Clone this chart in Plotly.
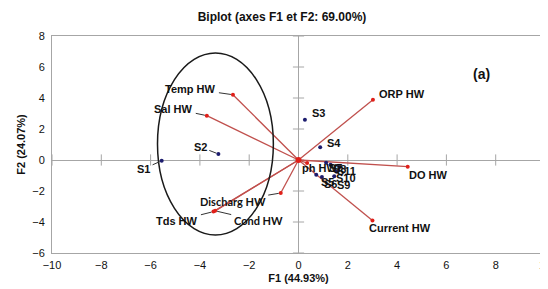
import plotly.graph_objects as go

# ---- data ----
obs_names = ["S1", "S2", "S3", "S4", "S5", "S6", "S7", "S8", "S9", "S10", "S11"]
obs_f1 = [-5.55, -3.25, 0.26, 0.88, 0.72, 0.95, 1.12, 1.30, 1.45, 1.55, 1.65]
obs_f2 = [-0.05, 0.39, 2.60, 0.82, -0.95, -1.10, -0.17, -0.30, -1.05, -0.75, -0.45]

var_names = ["Temp HW", "Sal HW", "Discharg HW", "Tds HW", "Cond HW",
             "ORP HW", "DO HW", "Current HW", "ph HW"]
var_f1 = [-2.66, -3.72, -0.72, -3.45, -3.38, 3.02, 4.43, 3.00, 0.35]
var_f2 = [4.21, 2.86, -2.13, -3.33, -3.28, 3.89, -0.43, -3.90, -0.20]

x_ticks = [-10, -8, -6, -4, -2, 0, 2, 4, 6, 8, 10]
y_ticks = [-6, -4, -2, 0, 2, 4, 6, 8]

ellipse_x = [-5.72, -1.02]
ellipse_y = [-4.84, 6.90]

# ---- label styling (pixel offsets of label centre from point, leader line?) ----
obs_label_style = {
    "S1": (-18, 8, True), "S2": (-18, -7, True), "S3": (14, -7, False),
    "S4": (14, -4, False), "S5": (11, 7, False), "S6": (9, 7, False),
    "S7": (9, 5, False), "S8": (9, 4, False), "S9": (9, 9, False),
    "S10": (9, 6, False), "S11": (7, 4, False),
}
var_label_style = {
    "Temp HW": (-42, -6, True), "Sal HW": (-33, -7, True),
    "Discharg HW": (-48, 8, True), "Tds HW": (-36, 9, True),
    "Cond HW": (43, 10, True), "ORP HW": (29, -6, False),
    "DO HW": (21, 8, False), "Current HW": (28, 8, False),
    "ph HW": (12, 5, False),
}

ARIAL = "Liberation Sans, Arial, sans-serif"
CALIBRI = "Lato, Carlito, sans-serif"
AXIS_GREY = "#a6a6a6"
VEC_RED = "#c0504d"

fig = go.Figure()

# tick marks on the zero lines
fig.add_trace(go.Scatter(x=x_ticks, y=[0] * len(x_ticks), mode="markers",
                         marker=dict(symbol="line-ns", size=8,
                                     line=dict(color=AXIS_GREY, width=1)),
                         hoverinfo="skip", showlegend=False))
fig.add_trace(go.Scatter(x=[0] * len(y_ticks), y=y_ticks, mode="markers",
                         marker=dict(symbol="line-ew", size=8,
                                     line=dict(color=AXIS_GREY, width=1)),
                         hoverinfo="skip", showlegend=False))

# variable vectors
vx, vy = [], []
for a, b in zip(var_f1, var_f2):
    vx += [0, a, None]
    vy += [0, b, None]
fig.add_trace(go.Scatter(x=vx, y=vy, mode="lines",
                         line=dict(color=VEC_RED, width=1.3),
                         hoverinfo="skip", showlegend=False))
fig.add_trace(go.Scatter(x=var_f1, y=var_f2, mode="markers",
                         marker=dict(color="#e0201a", size=4),
                         showlegend=False))
fig.add_trace(go.Scatter(x=[0], y=[0], mode="markers",
                         marker=dict(color="#e0201a", size=6),
                         showlegend=False))

# observations
fig.add_trace(go.Scatter(x=obs_f1, y=obs_f2, mode="markers",
                         marker=dict(color="#1c1c6e", size=4),
                         showlegend=False))

# ellipse
fig.add_shape(type="circle", xref="x", yref="y",
              x0=ellipse_x[0], x1=ellipse_x[1], y0=ellipse_y[0], y1=ellipse_y[1],
              line=dict(color="#1a1a1a", width=1.5), layer="above")

def add_label(name, x, y, style, family):
    dx, dy, leader = style
    fig.add_annotation(x=x, y=y, xref="x", yref="y", text="<b>%s</b>" % name,
                       showarrow=True, ax=dx, ay=dy, axref="pixel", ayref="pixel",
                       arrowhead=0, arrowwidth=1,
                       arrowcolor="#333333" if leader else "rgba(0,0,0,0)",
                       standoff=2, startstandoff=1,
                       font=dict(family=family, size=11, color="#111111"))

for n, a, b in zip(obs_names, obs_f1, obs_f2):
    add_label(n, a, b, obs_label_style[n], ARIAL)
for n, a, b in zip(var_names, var_f1, var_f2):
    fam = CALIBRI if n in ("Discharg HW", "Cond HW") else ARIAL
    add_label(n, a, b, var_label_style[n], fam)

fig.add_annotation(x=7.42, y=5.55, xref="x", yref="y", text="<b>(a)</b>",
                   showarrow=False, font=dict(family=ARIAL, size=14, color="#111111"))

fig.update_layout(
    width=548, height=289,
    margin=dict(l=44, r=11, t=28, b=44, autoexpand=False),
    paper_bgcolor="white", plot_bgcolor="white",
    title=dict(text="<b>Biplot (axes F1 et F2: 69.00%)</b>", x=0.5, xanchor="center",
               y=0.985, yanchor="top", font=dict(family=ARIAL, size=12, color="#111111"),
               automargin=False),
    font=dict(family=ARIAL, size=11, color="#111111"),
)
fig.update_xaxes(range=[-10, 10], tickvals=x_ticks, showgrid=False, automargin=False,
                 zeroline=True, zerolinecolor=AXIS_GREY, zerolinewidth=1,
                 showline=True, linecolor=AXIS_GREY, mirror=True, ticks="",
                 tickfont=dict(family=ARIAL, size=11), ticklabelstandoff=2,
                 title=dict(text="<b>F1 (44.93%)</b>", standoff=4,
                            font=dict(family=ARIAL, size=11)))
fig.update_yaxes(range=[-6, 8], tickvals=y_ticks, showgrid=False, automargin=False,
                 zeroline=True, zerolinecolor=AXIS_GREY, zerolinewidth=1,
                 showline=True, linecolor=AXIS_GREY, mirror=True, ticks="",
                 tickfont=dict(family=ARIAL, size=11), ticklabelstandoff=4,
                 title=dict(text="<b>F2 (24.07%)</b>", standoff=4,
                            font=dict(family=ARIAL, size=11)))

fig.write_html("out.html")
